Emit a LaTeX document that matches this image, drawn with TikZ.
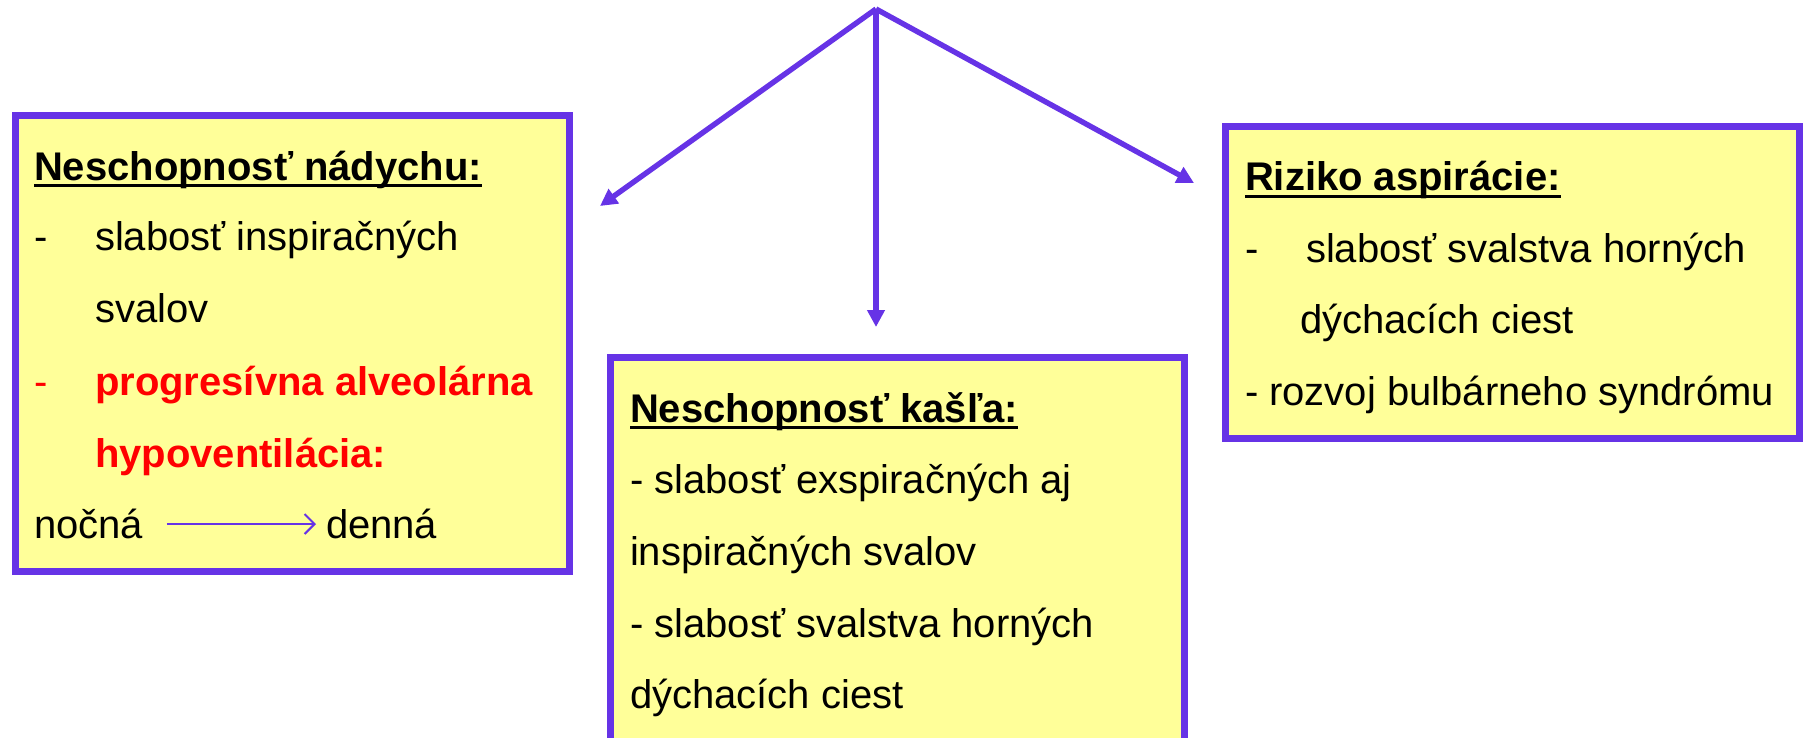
\documentclass[tikz,border=0pt]{standalone}
\usepackage{fontspec}
\setmainfont{Liberation Sans}
\usetikzlibrary{arrows.meta}
\definecolor{boxpurple}{RGB}{102,51,230}
\definecolor{boxyellow}{RGB}{255,255,153}
\definecolor{alertred}{RGB}{255,0,0}

\begin{document}
\begin{tikzpicture}[x=0.5pt,y=-0.5pt,
  panel/.style={draw=boxpurple, fill=boxyellow, line width=3.5pt, rectangle,
    inner sep=0pt, outer sep=0pt, anchor=north west},
  txt/.style={anchor=base west, inner sep=0pt, outer sep=0pt,
    font=\fontsize{20}{24}\selectfont},
  headtxt/.style={txt, font=\fontsize{20}{24}\selectfont\bfseries},
  redtxt/.style={headtxt, text=alertred},
  branch/.style={draw=boxpurple, line width=2.7pt, -{Triangle[length=8.5pt,width=8.5pt]}},
  uline/.style={line width=1.4pt},
  thinarrow/.style={draw=boxpurple, line width=1pt, -{Straight Barb[length=5pt,width=10pt]}}]

\useasboundingbox (0,0) rectangle (1803,738);
\clip (0,0) rectangle (1803,738);

% panels
\node[panel, minimum width=277pt, minimum height=227.5pt] (leftbox) at (15,116) {};
\node[panel, minimum width=287pt, minimum height=195pt] (midbox) at (610,357) {};
\node[panel, minimum width=287pt, minimum height=155.5pt] (rightbox) at (1225,127) {};

% branching arrows
\coordinate (apex) at (876,9);
\coordinate (lefttip) at (600,206);
\coordinate (midtip) at (876,327);
\coordinate (righttip) at (1194,183);
\draw[branch] (apex) -- (lefttip);
\draw[branch] (apex) -- (midtip);
\draw[branch] (apex) -- (righttip);

% left panel
\node[headtxt] (lt) at (34,180) {Neschopnosť nádychu:};
\draw[uline] ([yshift=-2.8pt]lt.base west) -- ([yshift=-2.8pt]lt.base east);
\node[txt] (ld1) at (34,250) {-};
\node[txt] (l1) at (95,250) {slabosť inspiračných};
\node[txt] (l2) at (95,322) {svalov};
\node[txt, text=alertred] (ld2) at (34,395) {-};
\node[redtxt] (l3) at (95,395) {progresívna alveolárna};
\node[redtxt] (l4) at (95,467) {hypoventilácia:};
\node[txt] (nocna) at (34,538) {nočná};
\node[txt] (denna) at (326,538) {denná};
\draw[thinarrow] ([xshift=12pt,yshift=7pt]nocna.base east) -- ([xshift=-5pt,yshift=7pt]denna.base west);

% middle panel
\node[headtxt] (mt) at (630,422) {Neschopnosť kašľa:};
\draw[uline] ([yshift=-2.8pt]mt.base west) -- ([yshift=-2.8pt]mt.base east);
\node[txt] (m1) at (630,493) {- slabosť exspiračných aj};
\node[txt] (m2) at (630,565) {inspiračných svalov};
\node[txt] (m3) at (630,637) {- slabosť svalstva horných};
\node[txt] (m4) at (630,708) {dýchacích ciest};

% right panel
\node[headtxt] (rt) at (1245,191) {Riziko aspirácie:};
\draw[uline] ([yshift=-2.8pt]rt.base west) -- ([yshift=-2.8pt]rt.base east);
\node[txt] (rd1) at (1245,262) {-};
\node[txt] (r1) at (1306,262) {slabosť svalstva horných};
\node[txt] (r2) at (1300,333) {dýchacích ciest};
\node[txt] (r3) at (1245,405) {- rozvoj bulbárneho syndrómu};
\end{tikzpicture}
\end{document}
